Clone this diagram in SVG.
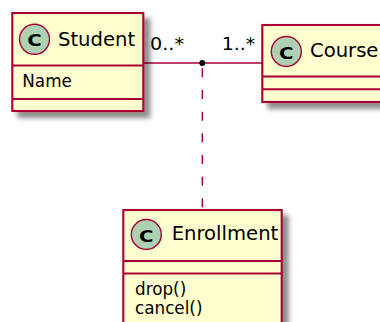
<svg xmlns="http://www.w3.org/2000/svg" width="380" height="322" viewBox="0 0 380 322">
<defs>
<filter id="sh" x="-10%" y="-10%" width="130%" height="130%">
<feGaussianBlur in="SourceAlpha" stdDeviation="2.8" result="b"/>
<feOffset in="b" dx="5.6" dy="5.6" result="o"/>
<feComponentTransfer in="o" result="g"><feFuncA type="linear" slope="0.45"/></feComponentTransfer>
<feFlood flood-color="#000000"/>
<feComposite in2="g" operator="in" result="s"/>
<feMerge><feMergeNode in="s"/><feMergeNode in="SourceGraphic"/></feMerge>
</filter>
<style>
.box{fill:#FEFECE;stroke:#A80036;stroke-width:2.1}
.sep{stroke:#A80036;stroke-width:2.1}
.circ{fill:#ADD1B2;stroke:#A80036;stroke-width:1.4}
.cg{font-family:"DejaVu Sans",sans-serif;font-weight:bold;font-size:16.5px;fill:#000}
.name{font-family:"DejaVu Sans",sans-serif;font-size:19.6px;fill:#000}
.attr{font-family:"DejaVu Sans",sans-serif;font-size:16.8px;fill:#000}
.lbl{font-family:"DejaVu Sans",sans-serif;font-size:18.2px;fill:#000}
.line{stroke:#A80036;stroke-width:1.4;fill:none}
</style>
</defs>
<g id="connectors">
<line class="line" x1="143.3" y1="63" x2="262.3" y2="63"/>
<line class="line" x1="202.3" y1="68.3" x2="202.3" y2="210" stroke-dasharray="9 12.67"/>
<circle cx="202.3" cy="63" r="3" fill="#000"/>
<text class="lbl" x="150" y="50" textLength="34" lengthAdjust="spacingAndGlyphs">0..*</text>
<text class="lbl" x="221.7" y="50" textLength="33.5" lengthAdjust="spacingAndGlyphs">1..*</text>
</g>
<g id="Student">
<rect class="box" x="12.3" y="13" width="131" height="98" filter="url(#sh)"/>
<line class="sep" x1="12.3" y1="65.5" x2="143.3" y2="65.5"/>
<line class="sep" x1="12.3" y1="99" x2="143.3" y2="99"/>
<circle class="circ" cx="34.5" cy="39.3" r="15"/>
<text class="cg" x="27.3" y="46.3" textLength="14.5" lengthAdjust="spacingAndGlyphs">C</text>
<text class="name" x="58" y="45.7">Student</text>
<text class="attr" x="22.3" y="87.3">Name</text>
</g>
<g id="Course">
<rect class="box" x="262.3" y="25" width="124" height="77" filter="url(#sh)"/>
<line class="sep" x1="262.3" y1="76.5" x2="386.3" y2="76.5"/>
<line class="sep" x1="262.3" y1="89.3" x2="386.3" y2="89.3"/>
<circle class="circ" cx="286.3" cy="51.5" r="15"/>
<text class="cg" x="279.1" y="58.5" textLength="14.5" lengthAdjust="spacingAndGlyphs">C</text>
<text class="name" x="310" y="57.2">Course</text>
</g>
<g id="Enrollment">
<rect class="box" x="123.3" y="210" width="158.4" height="130" filter="url(#sh)"/>
<line class="sep" x1="123.3" y1="261" x2="281.7" y2="261"/>
<line class="sep" x1="123.3" y1="273.5" x2="281.7" y2="273.5"/>
<circle class="circ" cx="146.3" cy="234.5" r="15"/>
<text class="cg" x="139.1" y="241.5" textLength="14.5" lengthAdjust="spacingAndGlyphs">C</text>
<text class="name" x="171.7" y="239.5">Enrollment</text>
<text class="attr" x="135" y="294.5">drop()</text>
<text class="attr" x="135" y="314">cancel()</text>
</g>
</svg>
